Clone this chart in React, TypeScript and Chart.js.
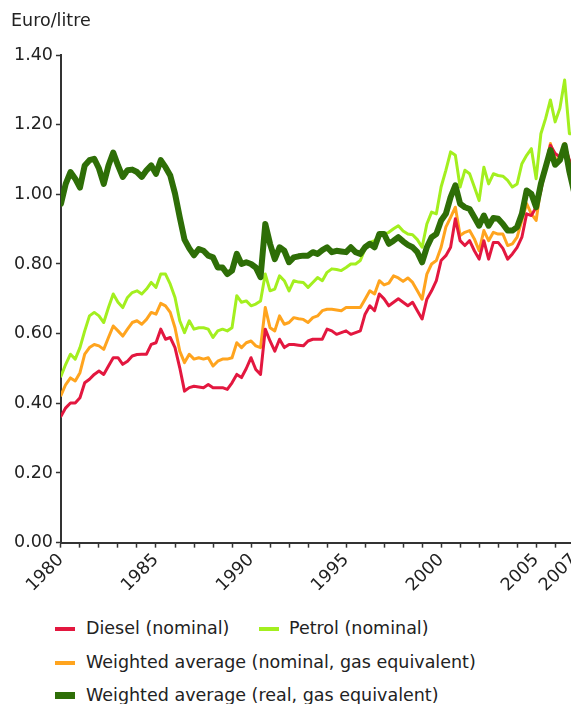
import React, { useEffect, useRef } from "react";
import { Chart, registerables } from "chart.js";

Chart.register(...registerables);

// Years of the quarterly series (4 values per year, last year has 2)
const years = [
  1980, 1981, 1982, 1983, 1984, 1985, 1986, 1987, 1988, 1989,
  1990, 1991, 1992, 1993, 1994, 1995, 1996, 1997, 1998, 1999,
  2000, 2001, 2002, 2003, 2004, 2005, 2006, 2007,
];
const labeledYears = [1980, 1985, 1990, 1995, 2000, 2005, 2007];

const seriesNames = [
  "Diesel (nominal)",
  "Petrol (nominal)",
  "Weighted average (nominal, gas equivalent)",
  "Weighted average (real, gas equivalent)",
];

// Euro/litre, quarterly
const diesel = [
  0.363, 0.387, 0.401, 0.401,
  0.416, 0.459, 0.469, 0.483,
  0.493, 0.483, 0.507, 0.531,
  0.531, 0.512, 0.521, 0.536,
  0.540, 0.541, 0.541, 0.569,
  0.574, 0.613, 0.584, 0.589,
  0.560, 0.502, 0.435, 0.445,
  0.449, 0.447, 0.445, 0.454,
  0.445, 0.445, 0.445, 0.440,
  0.459, 0.483, 0.474, 0.500,
  0.531, 0.497, 0.483, 0.613,
  0.579, 0.550, 0.584, 0.560,
  0.569, 0.569, 0.567, 0.565,
  0.579, 0.584, 0.584, 0.584,
  0.613, 0.608, 0.598, 0.603,
  0.608, 0.598, 0.603, 0.608,
  0.656, 0.680, 0.666, 0.714,
  0.700, 0.680, 0.690, 0.700,
  0.690, 0.680, 0.690, 0.666,
  0.642, 0.699, 0.723, 0.752,
  0.810, 0.824, 0.848, 0.930,
  0.867, 0.853, 0.867, 0.838,
  0.814, 0.867, 0.814, 0.862,
  0.862, 0.845, 0.814, 0.829,
  0.848, 0.877, 0.944, 0.939,
  0.963, 1.011, 1.078, 1.141,
  1.117, 1.107, 1.141, 1.098,
  1.069, 1.100,
];

const petrol = [
  0.478, 0.512, 0.541, 0.527,
  0.560, 0.608, 0.651, 0.661,
  0.651, 0.632, 0.675, 0.714,
  0.690, 0.675, 0.704, 0.718,
  0.723, 0.714, 0.728, 0.747,
  0.733, 0.771, 0.771, 0.742,
  0.704, 0.637, 0.603, 0.637,
  0.613, 0.617, 0.617, 0.613,
  0.589, 0.608, 0.613, 0.608,
  0.617, 0.709, 0.690, 0.694,
  0.680, 0.685, 0.694, 0.771,
  0.723, 0.728, 0.766, 0.752,
  0.723, 0.752, 0.748, 0.747,
  0.733, 0.747, 0.761, 0.752,
  0.776, 0.786, 0.784, 0.781,
  0.790, 0.800, 0.800, 0.810,
  0.843, 0.862, 0.867, 0.882,
  0.886, 0.891, 0.901, 0.910,
  0.895, 0.886, 0.884, 0.870,
  0.848, 0.915, 0.949, 0.944,
  1.021, 1.069, 1.122, 1.112,
  1.021, 1.069, 1.059, 1.021,
  0.982, 1.078, 1.030, 1.059,
  1.054, 1.052, 1.040, 1.021,
  1.030, 1.088, 1.112, 1.131,
  1.045, 1.174, 1.218, 1.271,
  1.208, 1.247, 1.328, 1.174,
  1.174, 1.266,
];

const weightedNominal = [
  0.423, 0.454, 0.473, 0.464,
  0.488, 0.541, 0.560, 0.569,
  0.565, 0.555, 0.589, 0.622,
  0.608, 0.593, 0.613, 0.632,
  0.637, 0.627, 0.641, 0.661,
  0.656, 0.687, 0.680, 0.661,
  0.617, 0.550, 0.517, 0.541,
  0.527, 0.531, 0.527, 0.531,
  0.507, 0.521, 0.527, 0.527,
  0.531, 0.574, 0.560, 0.574,
  0.579, 0.565, 0.560, 0.675,
  0.617, 0.608, 0.651, 0.627,
  0.632, 0.646, 0.643, 0.641,
  0.632, 0.646, 0.651, 0.666,
  0.670, 0.670, 0.668, 0.666,
  0.675, 0.675, 0.675, 0.675,
  0.699, 0.723, 0.714, 0.752,
  0.740, 0.745, 0.766, 0.760,
  0.750, 0.760, 0.747, 0.723,
  0.699, 0.771, 0.800, 0.810,
  0.848, 0.906, 0.934, 0.963,
  0.882, 0.891, 0.896, 0.872,
  0.838, 0.896, 0.867, 0.891,
  0.886, 0.886, 0.853, 0.858,
  0.877, 0.925, 0.973, 0.944,
  0.925, 1.021, 1.078, 1.146,
  1.103, 1.098, 1.146, 1.088,
  1.050, 1.107,
];

const weightedReal = [
  0.973, 1.030, 1.064, 1.045,
  1.019, 1.083, 1.098, 1.102,
  1.074, 1.030, 1.083, 1.120,
  1.083, 1.050, 1.069, 1.071,
  1.064, 1.050, 1.069, 1.083,
  1.059, 1.098, 1.078, 1.054,
  1.002, 0.934, 0.870, 0.845,
  0.825, 0.843, 0.838, 0.824,
  0.819, 0.790, 0.790, 0.771,
  0.781, 0.829, 0.800, 0.805,
  0.800, 0.790, 0.762, 0.915,
  0.858, 0.814, 0.848, 0.838,
  0.805, 0.819, 0.822, 0.824,
  0.824, 0.834, 0.829, 0.840,
  0.848, 0.834, 0.838, 0.836,
  0.834, 0.848, 0.834, 0.829,
  0.848, 0.858, 0.848, 0.886,
  0.886, 0.858, 0.867, 0.877,
  0.865, 0.855, 0.848, 0.834,
  0.805, 0.848, 0.877, 0.886,
  0.925, 0.944, 0.992, 1.026,
  0.973, 0.963, 0.958, 0.934,
  0.910, 0.939, 0.910, 0.932,
  0.930, 0.915, 0.896, 0.896,
  0.906, 0.944, 1.011, 1.001,
  0.963, 1.030, 1.078, 1.127,
  1.085, 1.098, 1.141, 1.065,
  1.006, 1.040,
];

const colors = ["#e3173f", "#a3ef1f", "#ffa41e", "#2e6e07"];
const lineWidths = [3, 3, 3, 6];
const seriesValues = [diesel, petrol, weightedNominal, weightedReal];
const drawOrder = [1, 3, 2, 0];

const FONT = "'DejaVu Sans', Verdana, sans-serif";
const FONT_SIZE = 17.5;
const TEXT = "#222";
const AXIS = "#333";

export default function App() {
  const canvasRef = useRef<HTMLCanvasElement | null>(null);

  useEffect(() => {
    const xs = diesel.map((_, i) => years[Math.floor(i / 4)] + (i % 4) / 4);
    const chart = new Chart(canvasRef.current as HTMLCanvasElement, {
      type: "line",
      data: {
        datasets: seriesNames.map((name, s) => ({
          label: name,
          data: seriesValues[s].map((y, i) => ({ x: xs[i], y })),
          borderColor: colors[s],
          backgroundColor: colors[s],
          borderWidth: lineWidths[s],
          pointRadius: 0,
          tension: 0,
          borderJoinStyle: "round" as const,
          borderCapStyle: "round" as const,
          fill: false,
          order: drawOrder[s],
        })),
      },
      options: {
        animation: false,
        responsive: true,
        maintainAspectRatio: false,
        layout: { padding: { left: 3, right: 0, top: 0, bottom: 0 } },
        plugins: {
          legend: { display: false },
          tooltip: { enabled: false },
          title: {
            display: true,
            text: "Euro/litre",
            align: "start",
            color: TEXT,
            font: { family: FONT, size: FONT_SIZE, weight: "normal" },
            padding: { top: 3, bottom: 23 },
          },
        },
        scales: {
          x: {
            type: "linear",
            min: 1980,
            max: 2007.25,
            ticks: {
              stepSize: 1,
              autoSkip: false,
              includeBounds: false,
              maxRotation: 45,
              minRotation: 45,
              padding: 2,
              color: TEXT,
              font: { family: FONT, size: FONT_SIZE },
              callback: (v: any) =>
                labeledYears.includes(Number(v)) ? String(v) : "",
            },
            grid: {
              display: true,
              drawOnChartArea: false,
              drawTicks: true,
              tickLength: 5,
              tickWidth: 1.5,
              tickColor: AXIS,
            },
            border: { display: true, color: AXIS, width: 2 },
          },
          y: {
            min: 0,
            max: 1.4,
            ticks: {
              stepSize: 0.2,
              padding: 3,
              color: TEXT,
              font: { family: FONT, size: FONT_SIZE },
              callback: (v: any) => Number(v).toFixed(2),
            },
            grid: {
              display: true,
              drawOnChartArea: false,
              drawTicks: true,
              tickLength: 5,
              tickWidth: 1.5,
              tickColor: AXIS,
            },
            border: { display: true, color: AXIS, width: 2 },
          },
        },
      },
    });
    return () => chart.destroy();
  }, []);

  const legendRows = [
    { top: 620, items: [{ s: 0, sx: 47, tx: 78 }, { s: 1, sx: 251, tx: 281 }] },
    { top: 654, items: [{ s: 2, sx: 47, tx: 78 }] },
    { top: 687, items: [{ s: 3, sx: 47, tx: 78 }] },
  ];

  return (
    <div
      style={{
        position: "relative",
        width: 571,
        height: 696,
        fontFamily: FONT,
        color: TEXT,
        overflow: "hidden",
      }}
    >
      <div style={{ position: "absolute", left: 0, top: 0, width: 583, height: 590 }}>
        <canvas ref={canvasRef} />
      </div>
      {legendRows.map((row, r) =>
        row.items.map((it) => (
          <React.Fragment key={`${r}-${it.s}`}>
            <div
              style={{
                position: "absolute",
                left: it.sx,
                top: row.top - lineWidths[it.s] / 2 - (it.s === 3 ? 0.5 : 0),
                width: 20,
                height: it.s === 3 ? 7 : 4,
                background: colors[it.s],
              }}
            />
            <div
              style={{
                position: "absolute",
                left: it.tx,
                top: row.top - 11,
                fontSize: FONT_SIZE,
                lineHeight: "22px",
                whiteSpace: "nowrap",
              }}
            >
              {seriesNames[it.s]}
            </div>
          </React.Fragment>
        ))
      )}
    </div>
  );
}
